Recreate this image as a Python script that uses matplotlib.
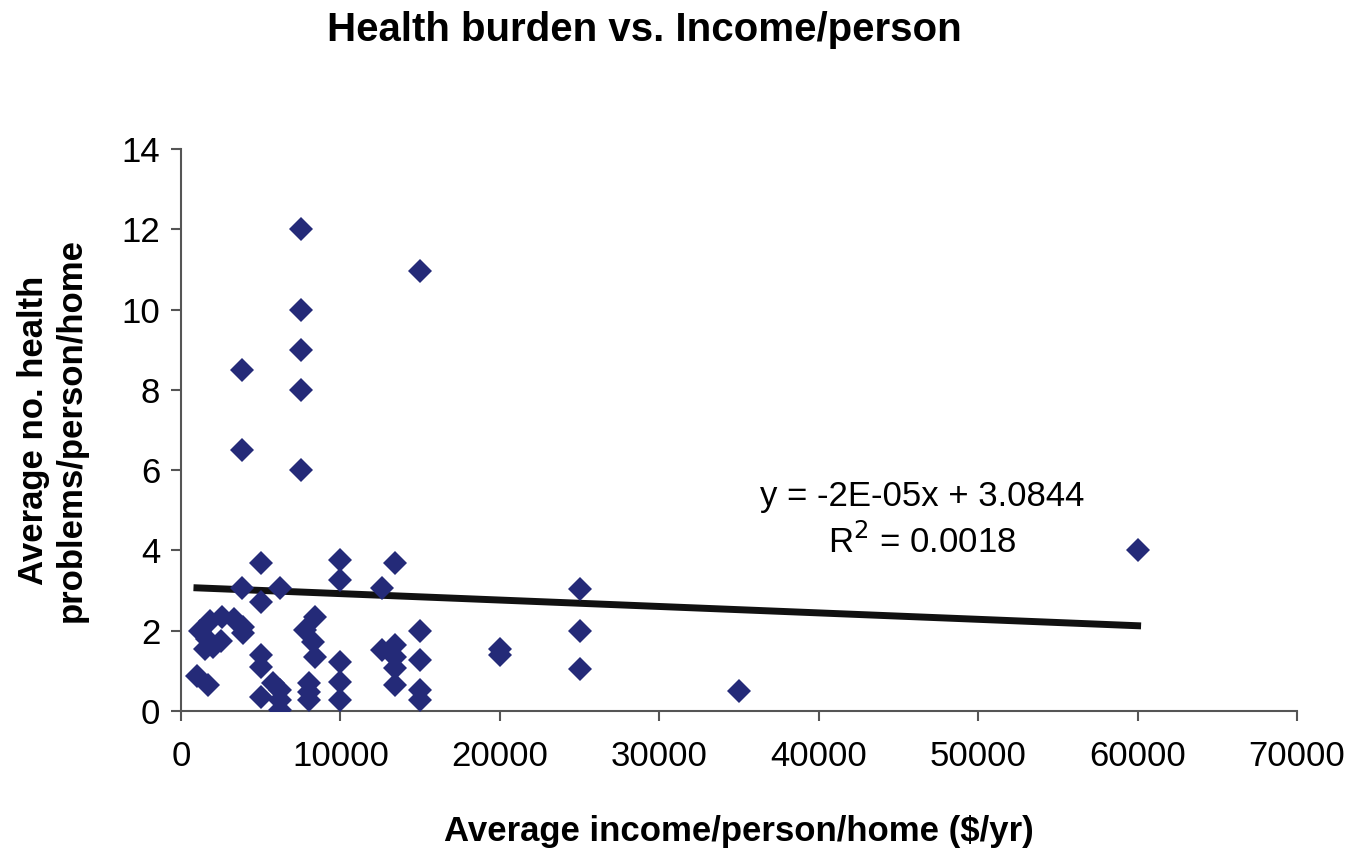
import numpy as np
import matplotlib
matplotlib.use("Agg")
import matplotlib.pyplot as plt

plt.rcParams['font.family'] = ['Liberation Sans', 'DejaVu Sans']

# ---- data ----
income = [7500, 15000, 7500, 7500, 7500, 3800, 3800, 7500, 60000, 35000,
          25000, 25000, 25000, 20000, 20000, 15000, 15000, 15000, 15000,
          13400, 13400, 13400, 13400, 13400, 12600, 12600,
          10000, 10000, 10000, 10000, 10000,
          5000, 5000, 5000, 5000, 5000, 3800, 6200, 8400, 7800, 8300, 8400,
          5800, 6200, 6200, 6200, 8000, 8000, 8000,
          1000, 1700, 1200, 1800, 2600, 3300, 3900, 3900, 2500, 2000, 1600, 1500]
health = [12.0, 10.96, 10.0, 9.0, 8.0, 8.5, 6.5, 6.0, 4.0, 0.5,
          3.03, 2.0, 1.05, 1.55, 1.4, 2.0, 1.27, 0.52, 0.27,
          3.68, 1.64, 1.35, 1.06, 0.65, 3.06, 1.52,
          3.76, 3.27, 1.23, 0.73, 0.27,
          3.68, 2.72, 1.39, 1.1, 0.36, 3.06, 3.06, 2.35, 2.02, 1.73, 1.35,
          0.7, 0.52, 0.27, 0.02, 0.7, 0.48, 0.27,
          0.87, 0.65, 2.0, 2.25, 2.35, 2.3, 2.1, 1.95, 1.75, 1.6, 1.8, 1.55]

trend_slope = -1.6e-05
trend_intercept = 3.0844
trend_x = [1000, 60000]

xticks = [0, 10000, 20000, 30000, 40000, 50000, 60000, 70000]
yticks = [0, 2, 4, 6, 8, 10, 12, 14]

fig = plt.figure(figsize=(13.63, 8.5), dpi=100)
ax = fig.add_axes([0.1328, 0.1635, 0.8188, 0.6612])

ax.plot(income, health, linestyle='none', marker='D', markersize=12,
        color='#242A78', markeredgewidth=0, zorder=3)

tx = np.array(trend_x)
ax.plot(tx, trend_slope * tx + trend_intercept, color='#111111', linewidth=5, zorder=2)

ax.set_xlim(0, 70000)
ax.set_ylim(0, 14)
ax.set_xticks(xticks)
ax.set_yticks(yticks)
ax.tick_params(labelsize=25, length=7, width=1.5, color='#555555')
ax.tick_params(axis='x', pad=14)
ax.tick_params(axis='y', pad=8)

for s in ['top', 'right']:
    ax.spines[s].set_visible(False)
for s in ['left', 'bottom']:
    ax.spines[s].set_color('#555555')
    ax.spines[s].set_linewidth(1.5)

ax.text(0.664, 0.34, 'y = -2E-05x + 3.0844\nR$^2$ = 0.0018', transform=ax.transAxes,
        fontsize=25, ha='center', va='center', linespacing=1.35)

ax.set_xlabel('Average income/person/home ($/yr)', fontsize=25, fontweight='bold', labelpad=30)
ax.set_ylabel('Average no. health\nproblems/person/home', fontsize=25, fontweight='bold', labelpad=24)

fig.text(0.473, 0.965, 'Health burden vs. Income/person', fontsize=29, fontweight='bold',
         ha='center', va='center')

fig.savefig('out.png', dpi=100)
